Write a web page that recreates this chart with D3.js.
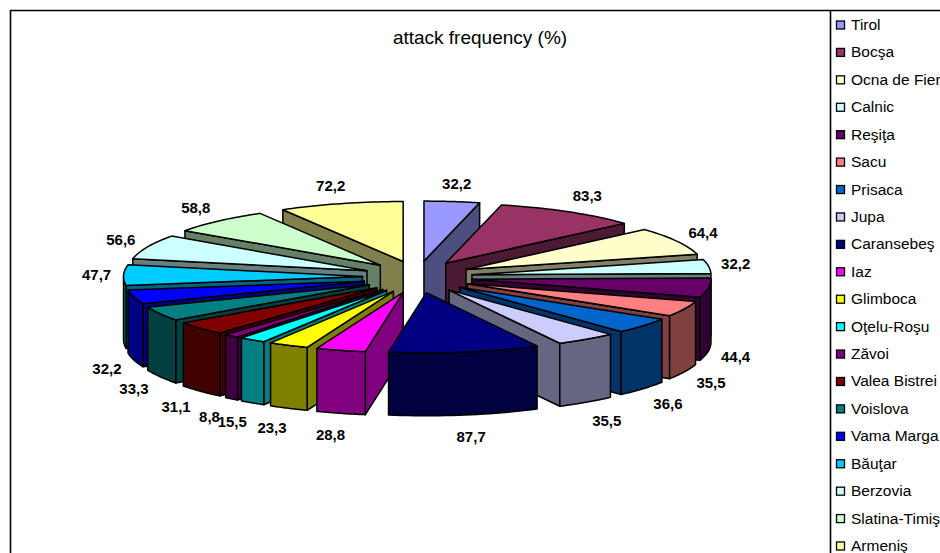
<!DOCTYPE html>
<html>
<head>
<meta charset="utf-8">
<script src="https://cdn.jsdelivr.net/npm/d3@7"></script>
<style>
  html, body { margin: 0; padding: 0; background: #fff; overflow: hidden; }
  text { font-family: "Liberation Sans", Arial, sans-serif; fill: #000; }
</style>
</head>
<body>
<div id="chart"></div>
<script>
// values
const places = ["Tirol", "Bocşa", "Ocna de Fier", "Calnic", "Reşiţa", "Sacu", "Prisaca", "Jupa", "Caransebeş", "Iaz",
  "Glimboca", "Oţelu-Roşu", "Zăvoi", "Valea Bistrei", "Voislova", "Vama Marga", "Băuţar", "Berzovia", "Slatina-Timiş", "Armeniş"];
const frequency = [32.2, 83.3, 64.4, 32.2, 44.4, 35.5, 36.6, 35.5, 87.7, 28.8,
  23.3, 15.5, 8.8, 31.1, 33.3, 32.2, 47.7, 56.6, 58.8, 72.2];
const palette = ["#9999ff", "#993366", "#ffffcc", "#ccffff", "#660066", "#ff8080", "#0066cc", "#ccccff", "#000080", "#ff00ff",
  "#ffff00", "#00ffff", "#800080", "#800000", "#008080", "#0000ff", "#00ccff", "#ccffff", "#ccffcc", "#ffff99"];
const chartTitle = "attack frequency (%)";

const width = 940, height = 553;

// 3D pie geometry, flattened ellipse + explode
const cx = 417.5, cy = 277;
const rx = 239, ry = 60;
const explodeX = 55, explodeY = 16;
const depth = 63;

const svg = d3.select("#chart").append("svg")
  .attr("width", width)
  .attr("height", height);

// chart frame and legend frame (run off the picture right and bottom)
svg.append("path")
  .attr("d", `M10.5,${height + 2}V10.5H${width + 2}M830.5,10.5V${height + 2}`)
  .attr("fill", "none")
  .attr("stroke", "#000")
  .attr("stroke-width", 1.6);

svg.append("text")
  .attr("x", 480)
  .attr("y", 44)
  .attr("text-anchor", "middle")
  .style("font-size", "19px")
  .text(chartTitle);

const pie = d3.pie().sort(null).value(d => d.value);
const slices = pie(places.map((name, i) => ({ name, value: frequency[i], color: palette[i] })));

function rimPoint(a, ox, oy) {
  return [ox + rx * Math.sin(a), oy - ry * Math.cos(a)];
}

const line = d3.line();

// back slices first so the front ones cover them
const drawOrder = slices.slice().sort((p, q) =>
  Math.cos((q.startAngle + q.endAngle) / 2) - Math.cos((p.startAngle + p.endAngle) / 2)
);

const pieGroup = svg.append("g")
  .attr("stroke", "#000")
  .attr("stroke-width", 1.5)
  .attr("stroke-linejoin", "round");

drawOrder.forEach(s => {
  const mid = (s.startAngle + s.endAngle) / 2;
  const ox = cx + explodeX * Math.sin(mid);
  const oy = cy - explodeY * Math.cos(mid);
  const angles = d3.range(0, 25).map(i => s.startAngle + (s.endAngle - s.startAngle) * i / 24);
  const rim = angles.map(a => rimPoint(a, ox, oy));
  const c = d3.rgb(s.data.color);
  const shade = d3.rgb(c.r / 2, c.g / 2, c.b / 2).formatHex();

  const down = p => [p[0], p[1] + depth];
  const apex = [ox, oy];

  // radial faces, only the ones turned towards the viewer
  const faces = [];
  if (Math.sin(s.startAngle) < -1e-6) faces.push(rim[0]);
  if (Math.sin(s.endAngle) > 1e-6) faces.push(rim[rim.length - 1]);
  faces.forEach(p => {
    pieGroup.append("path")
      .attr("d", line([apex, p, down(p), down(apex)]) + "Z")
      .attr("fill", shade);
  });

  // curved outer face, only the part looking at the viewer
  const front = angles.filter(a => Math.cos(a) < 0).map(a => rimPoint(a, ox, oy));
  if (front.length > 1) {
    pieGroup.append("path")
      .attr("d", line(front.concat(front.map(down).reverse())) + "Z")
      .attr("fill", shade);
  }

  // top
  pieGroup.append("path")
    .attr("d", line([apex].concat(rim)) + "Z")
    .attr("fill", s.data.color);
});

// value labels sit just outside the rim, below the wall on the front half
svg.append("g").selectAll("text")
  .data(slices)
  .join("text")
    .attr("x", s => {
      const sn = Math.sin((s.startAngle + s.endAngle) / 2);
      return cx + (rx + explodeX + 40) * sn - 13 * sn * sn * sn;
    })
    .attr("y", s => {
      const c = Math.cos((s.startAngle + s.endAngle) / 2);
      return cy - (ry + explodeY + 18) * c + (c < 0 ? depth + 4 : 0) + 5;
    })
    .attr("text-anchor", "middle")
    .style("font-size", "15px")
    .style("font-weight", "bold")
    .text(s => s.value.toFixed(1).replace(".", ","));

// legend
const legendY = d3.scalePoint()
  .domain(places)
  .range([25, 546]);

const legend = svg.append("g").selectAll("g")
  .data(slices)
  .join("g")
    .attr("transform", s => `translate(836.5,${legendY(s.data.name)})`);

legend.append("rect")
  .attr("y", -4)
  .attr("width", 8)
  .attr("height", 8)
  .attr("fill", s => s.data.color)
  .attr("stroke", "#000")
  .attr("stroke-width", 1.3);

legend.append("text")
  .attr("x", 14.5)
  .attr("y", 5)
  .style("font-size", "15.5px")
  .text(s => s.data.name);
</script>
</body>
</html>
